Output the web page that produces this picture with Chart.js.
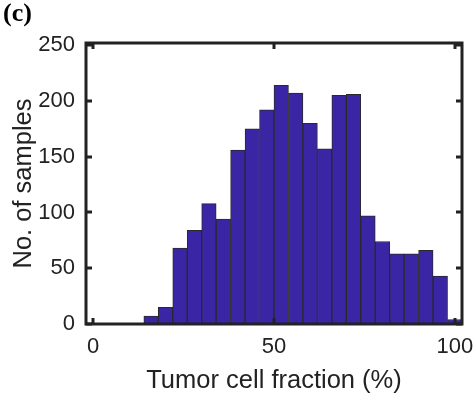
<!DOCTYPE html>
<html>
<head>
<meta charset="utf-8">
<script src="https://cdn.jsdelivr.net/npm/chart.js@4"></script>
<style>
  html, body { margin: 0; padding: 0; background: #fff; }
  #wrap { position: relative; width: 476px; height: 406px; }
  #panel { position: absolute; left: 3px; top: 0px; font: bold 26px "Liberation Serif", "DejaVu Serif", serif; line-height: 1; color: #000; }
  canvas { position: absolute; left: 0; top: 0; }
</style>
</head>
<body>
<div id="wrap">
  <canvas id="c" width="476" height="406"></canvas>
  <div id="panel">(c)</div>
</div>
<script>
// Histogram bins (bin width 4, centres) and sample counts
const binCenters = [0, 4, 8, 12, 16, 20, 24, 28, 32, 36, 40, 44, 48, 52, 56, 60, 64, 68, 72, 76, 80, 84, 88, 92, 96, 100];
const counts     = [0, 0, 0, 0, 7, 15, 68, 84, 108, 94, 156, 175, 192, 214, 207, 180, 157, 205, 206, 97, 74, 63, 63, 66, 43, 4];
const xTicks = [0, 50, 100];
const yTicks = [0, 50, 100, 150, 200, 250];
const xTitle = 'Tumor cell fraction (%)';
const yTitle = 'No. of samples';

const points = binCenters.map((c, i) => ({ x: c, y: counts[i] }));
const textColor = '#222';

const boxAndTicks = {
  id: 'boxAndTicks',
  afterDatasetsDraw(chart) {
    const { ctx, chartArea: a, scales } = chart;
    ctx.save();
    ctx.strokeStyle = '#222';
    ctx.lineWidth = 3;
    ctx.strokeRect(a.left, a.top, a.right - a.left, a.bottom - a.top);
    const tl = 6;
    ctx.beginPath();
    xTicks.forEach(v => {
      const px = Math.round(scales.x.getPixelForValue(v));
      ctx.moveTo(px, a.bottom); ctx.lineTo(px, a.bottom - tl);
      ctx.moveTo(px, a.top); ctx.lineTo(px, a.top + tl);
    });
    yTicks.forEach(v => {
      const py = Math.round(scales.y.getPixelForValue(v));
      ctx.moveTo(a.left, py); ctx.lineTo(a.left + tl, py);
      ctx.moveTo(a.right, py); ctx.lineTo(a.right - tl, py);
    });
    ctx.stroke();
    ctx.restore();
  }
};

new Chart(document.getElementById('c'), {
  type: 'bar',
  data: {
    datasets: [{
      data: points,
      backgroundColor: '#3a25a5',
      borderColor: '#2a2a2a',
      borderWidth: 1,
      borderSkipped: false,
      barPercentage: 1,
      categoryPercentage: 1
    }]
  },
  options: {
    responsive: false,
    animation: false,
    events: [],
    layout: { padding: { left: 0, right: 14, top: 43, bottom: 0 } },
    plugins: { legend: { display: false }, tooltip: { enabled: false } },
    scales: {
      x: {
        type: 'linear',
        min: -2,
        max: 102,
        offset: false,
        afterBuildTicks: s => { s.ticks = xTicks.map(v => ({ value: v })); },
        afterFit: s => { s.height = 82; s.paddingLeft = 0; s.paddingRight = 0; },
        grid: { display: false, drawTicks: false },
        border: { display: false },
        ticks: { color: textColor, font: { family: 'Liberation Sans', size: 22 }, padding: 10, maxRotation: 0, autoSkip: false },
        title: { display: true, text: xTitle, color: textColor, font: { family: 'Liberation Sans', size: 25.5 }, padding: { top: 0, bottom: 10 } }
      },
      y: {
        min: 0,
        max: 252,
        afterBuildTicks: s => { s.ticks = yTicks.map(v => ({ value: v })); },
        afterFit: s => { s.width = 86; s.paddingTop = 0; s.paddingBottom = 0; },
        grid: { display: false, drawTicks: false },
        border: { display: false },
        ticks: { color: textColor, font: { family: 'Liberation Sans', size: 22 }, padding: 11 },
        title: { display: true, text: yTitle, color: textColor, font: { family: 'Liberation Sans', size: 25.5 }, padding: { top: 9, bottom: 0 } }
      }
    }
  },
  plugins: [boxAndTicks]
});
</script>
</body>
</html>
